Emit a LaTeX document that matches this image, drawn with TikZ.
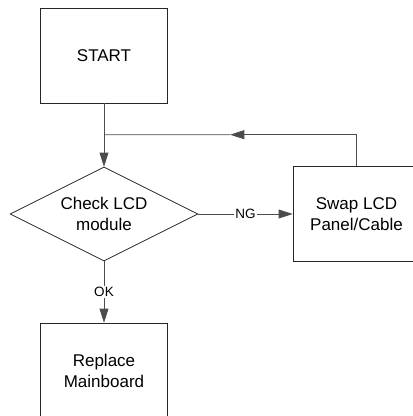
\documentclass[tikz,border=0pt]{standalone}
\usepackage{fontspec}
\setmainfont{Liberation Sans}
\usepackage{tikz}
\usetikzlibrary{arrows.meta,shapes.geometric,calc}

\begin{document}
\begin{tikzpicture}[x=1pt,y=-1pt]
				\useasboundingbox (0,0) rectangle (413,416);
				\begin{scope}[every node/.style={draw=black!85,line width=0.8pt,align=center,
				font=\fontsize{17}{21}\selectfont,minimum width=126.6pt,minimum height=95pt}]
				\node[rectangle] (start) at (104,55.5) {START};
				\node[diamond,aspect=2,inner sep=0pt,minimum width=188pt,minimum height=94pt] (check) at (104,214) {Check LCD\\module};
				\node[rectangle,minimum width=127pt,minimum height=94.5pt] (swap) at (356.5,214) {Swap LCD\\Panel/Cable};
				\node[rectangle] (replace) at (104,370.5) {Replace\\Mainboard};
				\end{scope}
				\coordinate (turn) at (swap.north |- 0,134.7);
				\coordinate (join) at (start.south |- turn);
				\coordinate (mid) at ($(turn)!0.5!(join)$);
				\begin{scope}[>={Triangle[length=14pt,width=9pt]},
				every node/.style={fill=white,inner sep=1pt,font=\fontsize{13.5}{16}\selectfont},
				every edge/.style={draw=black!70,line width=0.8pt}]
				\path [->] (start) edge (check);
				\path [->] (check) edge node {NG} (swap);
				\path [->] (check) edge node {OK} (replace);
				\path [->] (swap.north) edge[to path={|- (\tikztotarget)}] (mid);
				\path [-]  (mid) edge (join);
				\end{scope}
\end{tikzpicture}
\end{document}
